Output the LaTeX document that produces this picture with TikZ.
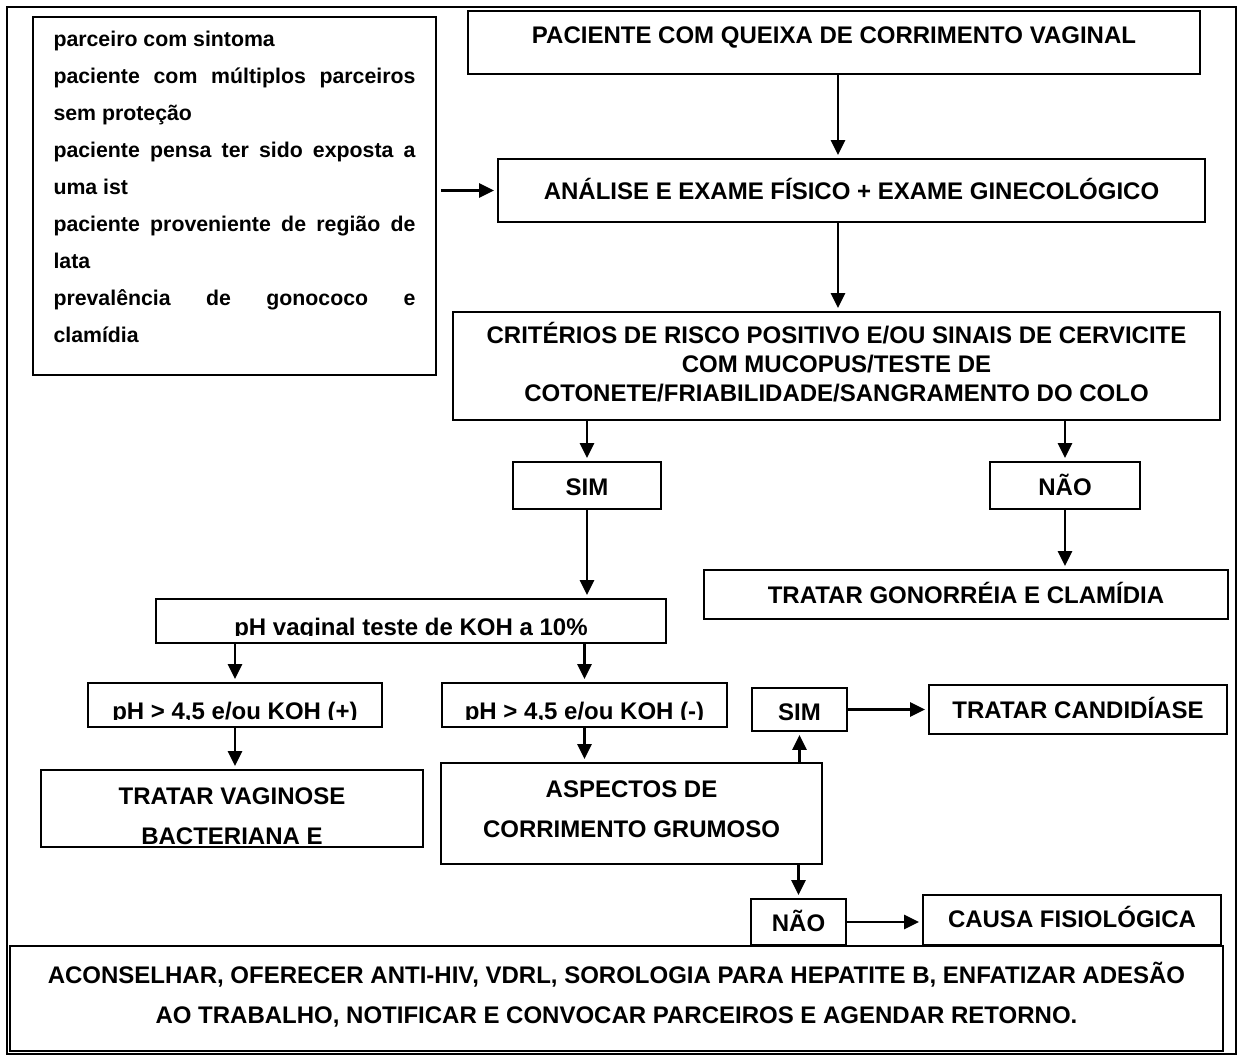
\documentclass[tikz,border=0pt]{standalone}
\usepackage{fontspec}
\setmainfont{Liberation Sans}
\usetikzlibrary{arrows.meta}
\newcommand{\jl}[1]{\makebox[\linewidth][s]{#1}}
\newcommand{\mlbox}[3]{\begin{minipage}[t]{#1pt}\fontsize{24}{#2}\selectfont\bfseries\centering #3\end{minipage}}
\begin{document}
\begin{tikzpicture}[x=1pt,y=-1pt,
  bx/.style={draw, line width=1.8pt, inner xsep=0pt, inner ysep=0pt, font=\bfseries\fontsize{24}{28}\selectfont},
  tb/.style 2 args={text height=#1pt, text depth=#2pt},
  txt/.style={inner sep=0pt, font=\bfseries\fontsize{24}{28}\selectfont},
  arr/.style={-{Triangle[length=15pt,width=14pt]}, line width=2.5pt, shorten >=3pt}]
\useasboundingbox (0,0) rectangle (1239,1057);
\draw[line width=2.6pt] (7,7) rectangle (1236,1054);
% risk criteria box
\node[bx, minimum width=403pt, inner xsep=20.5pt, tb={29.7}{328.3}] (risk) at (234.5,196)
 {\begin{minipage}[t]{362pt}\fontsize{21.3}{37}\selectfont\bfseries
 parceiro com sintoma\par
 \jl{paciente com múltiplos parceiros}\par
 sem proteção\par
 \jl{paciente pensa ter sido exposta a}\par
 uma ist\par
 \jl{paciente proveniente de região de}\par
 lata\par
 \jl{prevalência de gonococo e}\par
 clamídia\end{minipage}};
\node[bx, minimum width=732pt, tb={33}{30}] (PAC) at (834,42.5) {PACIENTE COM QUEIXA DE CORRIMENTO VAGINAL};
\node[bx, minimum width=707pt, tb={40}{23}] (ANA) at (851.5,190.5) {ANÁLISE E EXAME FÍSICO + EXAME GINECOLÓGICO};
\node[bx, tb={31.5}{76.5}] (CRIT) at (836.5,366) {\mlbox{767}{28.8}{CRITÉRIOS DE RISCO POSITIVO E/OU SINAIS DE CERVICITE\par COM MUCOPUS/TESTE DE\par COTONETE/FRIABILIDADE/SANGRAMENTO DO COLO}};
\node[bx, minimum width=148pt, tb={33.6}{13.4}] (SIM1) at (587,485.5) {SIM};
\node[bx, minimum width=150pt, tb={33.6}{13.4}] (NAO1) at (1065,485.5) {NÃO};
\node[bx, minimum width=524pt, tb={33.6}{15.4}] (GON) at (966,594.5) {TRATAR GONORRÉIA E CLAMÍDIA};
\node[bx, minimum width=510pt, minimum height=44pt] (PHV) at (411,621) {};
\node[bx, minimum width=294pt, minimum height=44pt] (PHP) at (235,705) {};
\node[bx, minimum width=285pt, minimum height=44pt] (PHN) at (584.5,705) {};
\begin{scope}
\clip (156,599) rectangle (666,635.5);
\node[txt, anchor=base] (PHVt) at (411,635) {pH vaginal teste de KOH a 10\%};
\end{scope}
\begin{scope}
\clip (88,683) rectangle (382,719.5);
\node[txt, anchor=base] (PHPt) at (235,719) {pH > 4,5 e/ou KOH (+)};
\end{scope}
\begin{scope}
\clip (442,683) rectangle (727,719.5);
\node[txt, anchor=base] (PHNt) at (584.5,719) {pH > 4,5 e/ou KOH (-)};
\end{scope}
\node[bx, tb={34.6}{42.4}] (VAG) at (232,808.5) {\mlbox{382}{40}{TRATAR VAGINOSE\par BACTERIANA E}};
\node[bx, tb={34.6}{66.4}] (ASP) at (631.5,813.5) {\mlbox{381}{40}{ASPECTOS DE\par CORRIMENTO GRUMOSO}};
\node[bx, minimum width=95pt, tb={32.6}{10.4}] (SIM2) at (799.5,709.5) {SIM};
\node[bx, minimum width=298pt, tb={33.6}{15.4}] (CAND) at (1078,709.5) {TRATAR CANDIDÍASE};
\node[bx, minimum width=95pt, tb={32.6}{13.4}] (NAO2) at (798.5,922) {NÃO};
\node[bx, minimum width=298pt, tb={32.6}{17.4}] (CAUSA) at (1072,920) {CAUSA FISIOLÓGICA};
\node[bx, tb={37.6}{67.4}] (BOT) at (616.5,998.5) {\mlbox{1213}{40}{ACONSELHAR, OFERECER ANTI-HIV, VDRL, SOROLOGIA PARA HEPATITE B, ENFATIZAR ADESÃO\par AO TRABALHO, NOTIFICAR E CONVOCAR PARCEIROS E AGENDAR RETORNO.}};
% connectors
\coordinate (ax) at ([xshift=4pt]PAC.south);
\draw[arr, shorten <=4pt] (risk.east |- ANA.west) -- (ANA.west);
\draw[arr] (ax) -- (ax |- ANA.north);
\draw[arr] (ax |- ANA.south) -- (ax |- CRIT.north);
\draw[arr] (SIM1.north |- CRIT.south) -- (SIM1.north);
\draw[arr] (NAO1.north |- CRIT.south) -- (NAO1.north);
\draw[arr] (SIM1.south) -- (SIM1.south |- PHV.north);
\draw[arr] (NAO1.south) -- (NAO1.south |- GON.north);
\draw[arr] (PHP.north |- PHV.south) -- (PHP.north);
\draw[arr] (PHN.north |- PHV.south) -- (PHN.north);
\draw[arr] (PHP.south) -- (PHP.south |- VAG.north);
\draw[arr] (PHN.south) -- (PHN.south |- ASP.north);
\draw[arr] (SIM2.south |- ASP.north) -- (SIM2.south);
\draw[arr] (NAO2.north |- ASP.south) -- (NAO2.north);
\draw[arr] (SIM2.east) -- (SIM2.east -| CAND.west);
\draw[arr] (NAO2.east) -- (NAO2.east -| CAUSA.west);
\end{tikzpicture}
\end{document}
